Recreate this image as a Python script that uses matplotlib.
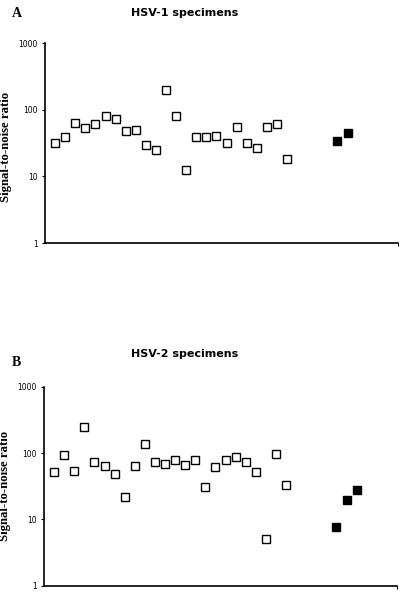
import numpy as np
import matplotlib
matplotlib.use("Agg")
import matplotlib.pyplot as plt

# HSV-1 panel
hsv1_open = [32, 38.5, 62.5, 52.6, 60.4, 80.7, 72.7, 48, 49.6, 29.5, 24.8, 196,
             80.7, 12.4, 38.5, 38.5, 39.9, 32, 54.5, 32, 26.3, 54.5, 60.4, 18]
hsv1_filled = [33.5, 45.3]
hsv1_filled_x = [29, 30]

# HSV-2 panel
hsv2_open = [52.3, 93.3, 54.2, 246, 74, 64.4, 48.8, 21.5, 64.4, 135, 74, 68.2,
             79.3, 65.9, 78.4, 31.1, 61.5, 79.3, 86, 73.2, 51.7, 5.0, 95.5, 33]
hsv2_filled = [7.75, 19.8, 27.7]
hsv2_filled_x = [29, 30, 31]

yticks = [1, 10, 100, 1000]
ytick_labels = ["1", "10", "100", "1000"]

fig = plt.figure(figsize=(4.0, 5.99), dpi=100)

# letter y, title y, ylabel y in figure/axes fraction
panels = [
    ("A", "HSV-1 specimens", hsv1_open, hsv1_filled_x, hsv1_filled,
     [0.1125, 0.5943, 0.8825, 0.3339], 0.978, 0.978, 0.48),
    ("B", "HSV-2 specimens", hsv2_open, hsv2_filled_x, hsv2_filled,
     [0.11, 0.0222, 0.8825, 0.3322], 0.395, 0.409, 0.5),
]

for letter, title, opn, fx, fil, rect, ly, ty, yl in panels:
    ax = fig.add_axes(rect)
    x_open = np.arange(1, len(opn) + 1)
    ax.plot(x_open, opn, ls="none", marker="s", ms=5.2, mfc="white", mec="black", mew=1.0)
    ax.plot(fx, fil, ls="none", marker="s", ms=5.2, mfc="black", mec="black", mew=1.0)
    ax.set_yscale("log")
    ax.set_ylim(1, 1000)
    ax.set_xlim(0, 35)
    ax.set_yticks(yticks)
    ax.set_yticklabels(ytick_labels, fontsize=5.5, family="DejaVu Sans")
    ax.minorticks_off()
    ax.set_xticks([35])
    ax.set_xticklabels([])
    ax.tick_params(axis="both", length=2, width=0.8, pad=3)
    for s in ["top", "right"]:
        ax.spines[s].set_visible(False)
    for s in ["left", "bottom"]:
        ax.spines[s].set_linewidth(1.2)
    ax.set_ylabel("Signal-to-noise ratio", family="Liberation Serif",
                  fontweight="bold", fontsize=9.2)
    ax.yaxis.set_label_coords(-0.093, yl)
    fig.text(0.03, ly, letter, family="Liberation Serif", fontweight="bold",
             fontsize=10, va="center", ha="left")
    fig.text(0.4625, ty, title, family="DejaVu Sans", fontweight="bold",
             fontsize=8, va="center", ha="center")

fig.savefig("out.png", dpi=100)
